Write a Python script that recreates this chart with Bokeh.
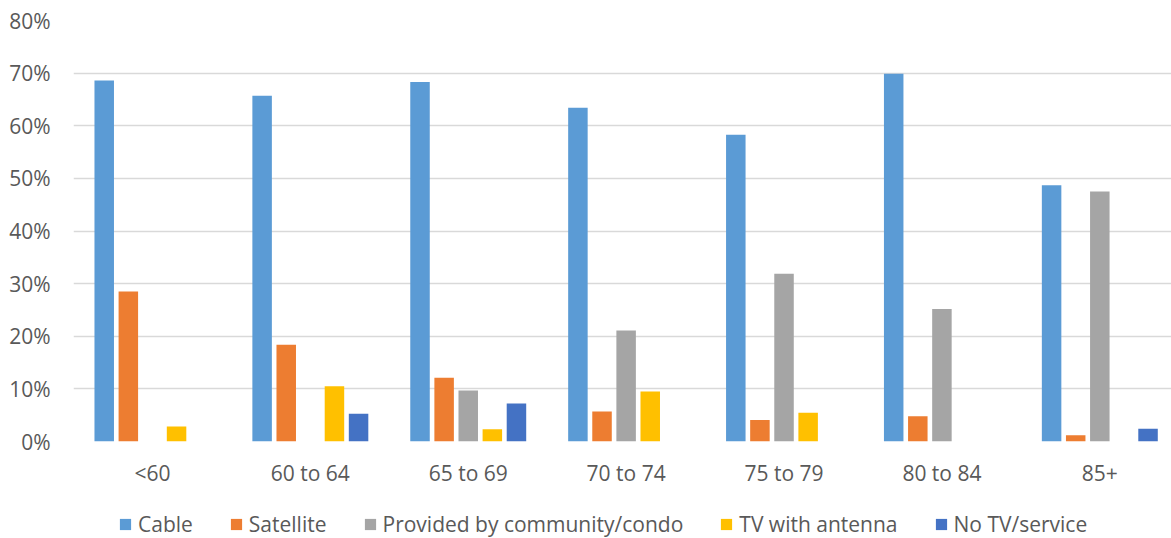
from bokeh.plotting import figure
from bokeh.layouts import column
from bokeh.models import (ColumnDataSource, Range1d, FixedTicker, PrintfTickFormatter,
                          Legend, LegendItem)
from bokeh.embed import file_html
from bokeh.resources import INLINE

# Share of respondents by TV service type, per age group (percent)
age_groups = ["<60", "60 to 64", "65 to 69", "70 to 74", "75 to 79", "80 to 84", "85+"]
cable = [68.6, 65.7, 68.3, 63.4, 58.3, 69.9, 48.7]
satellite = [28.5, 18.4, 12.1, 5.7, 4.1, 4.8, 1.2]
community = [0.0, 0.0, 9.7, 21.1, 31.9, 25.2, 47.5]
antenna = [2.85, 10.5, 2.35, 9.5, 5.45, 0.0, 0.0]
no_tv = [0.0, 5.25, 7.2, 0.0, 0.0, 0.0, 2.4]

series = [
    ("Cable", cable, "#5B9BD5"),
    ("Satellite", satellite, "#ED7D31"),
    ("Provided by community/condo", community, "#A5A5A5"),
    ("TV with antenna", antenna, "#FFC000"),
    ("No TV/service", no_tv, "#4472C4"),
]

FONT = "Open Sans"
TEXT = "#595959"
GRID = "#D9D9D9"
W = 1171

centers = [i + 0.5 for i in range(len(age_groups))]
step = 0.1527
bar_w = 0.1235

# main chart
p = figure(width=W, height=498, output_backend="svg", toolbar_location=None,
           x_range=Range1d(0, 6.954), y_range=Range1d(0, 80),
           min_border_left=73, min_border_right=0, min_border_top=20, min_border_bottom=57)
p.outline_line_color = None
p.background_fill_color = "white"
p.border_fill_color = "white"

for k, (name, vals, color) in enumerate(series):
    off = (k - 2) * step
    src = ColumnDataSource(dict(x=[c + off for c in centers], top=vals))
    p.vbar(x="x", top="top", bottom=0, width=bar_w, source=src,
           fill_color=color, line_color=None)

# y axis: percent ticks every 10
p.yaxis.ticker = FixedTicker(ticks=list(range(0, 81, 10)))
p.yaxis.formatter = PrintfTickFormatter(format="%d%%")
p.yaxis.axis_line_color = None
p.yaxis.major_tick_line_color = None
p.yaxis.minor_tick_line_color = None
p.yaxis.major_label_text_font = FONT
p.yaxis.major_label_text_font_size = "21px"
p.yaxis.major_label_text_color = TEXT
p.yaxis.major_label_standoff = 17

# x axis: one label per age group
p.xaxis.ticker = FixedTicker(ticks=centers)
p.xaxis.major_label_overrides = {c: g for c, g in zip(centers, age_groups)}
p.xaxis.axis_line_color = None
p.xaxis.major_tick_line_color = None
p.xaxis.minor_tick_line_color = None
p.xaxis.major_label_text_font = FONT
p.xaxis.major_label_text_font_size = "21px"
p.xaxis.major_label_text_color = TEXT
p.xaxis.major_label_standoff = 11

p.xgrid.grid_line_color = None
p.ygrid.grid_line_color = GRID
p.ygrid.grid_line_width = 1.5
p.ygrid.ticker = FixedTicker(ticks=list(range(0, 81, 10)))

# legend strip underneath (its frame lines up with the chart frame)
lg = figure(width=W, height=40, output_backend="svg", toolbar_location=None,
            x_axis_type=None, y_axis_type=None,
            x_range=Range1d(0, 1), y_range=Range1d(0, 1),
            min_border_left=0, min_border_right=0, min_border_top=0, min_border_bottom=0)
lg.grid.visible = False
lg.outline_line_color = None
lg.border_fill_color = "white"
lg.background_fill_color = "white"

items = []
for name, vals, color in series:
    # swatch renderer placed beyond the visible range; only its legend glyph shows
    r = lg.vbar(x=[50], top=[1], width=0.1, fill_color=color, line_color=None)
    items.append(LegendItem(label=name, renderers=[r]))

legend = Legend(items=items, orientation="horizontal", location=(45, 0),
                glyph_width=14, glyph_height=14, label_standoff=6, spacing=36,
                padding=0, margin=0, border_line_color=None, background_fill_alpha=0,
                label_text_font=FONT, label_text_font_size="21px", label_text_color=TEXT)
lg.add_layout(legend, "center")

layout = column(p, lg, spacing=0)
open("out.html", "w").write(file_html(layout, INLINE))
